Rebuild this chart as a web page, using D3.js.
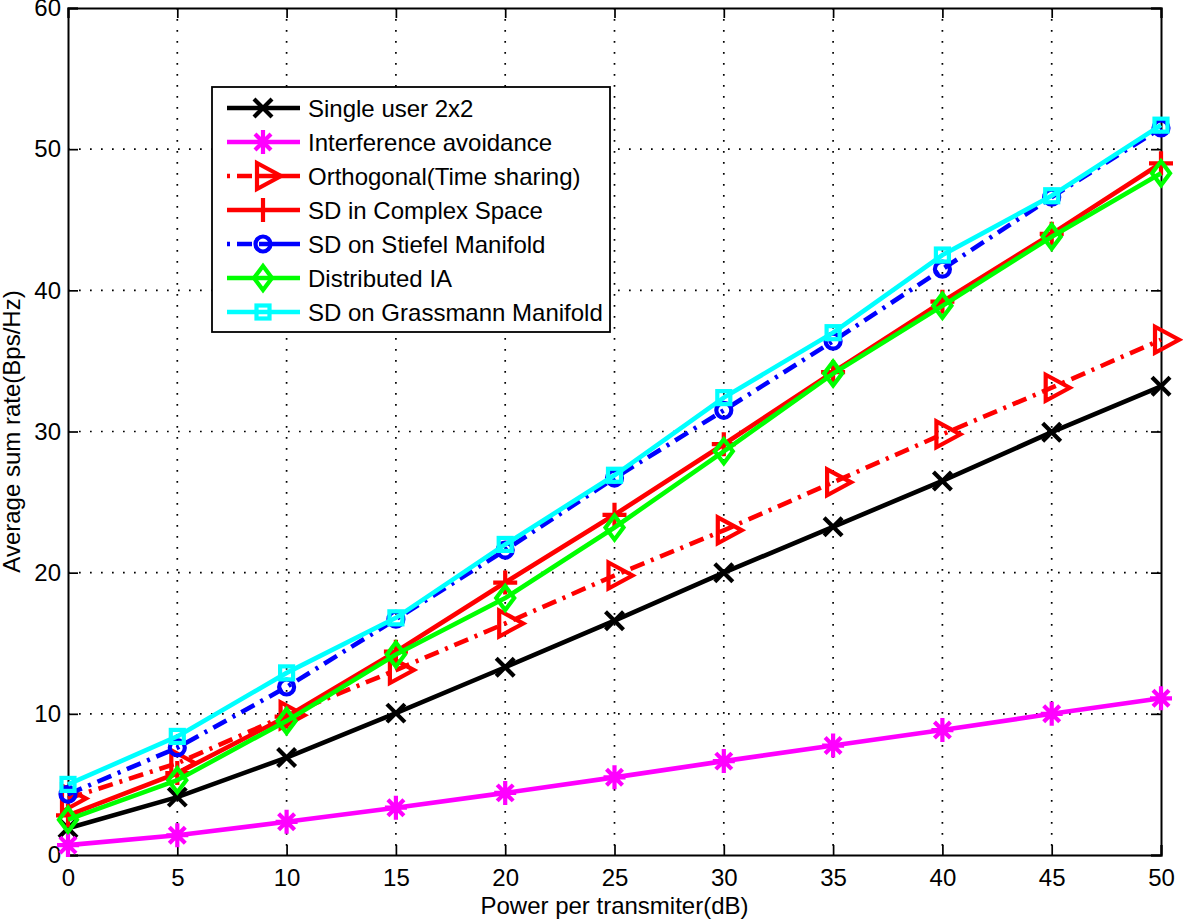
<!DOCTYPE html>
<html><head><meta charset="utf-8">
<script src="https://cdn.jsdelivr.net/npm/d3@7"></script>
<style>body{margin:0;background:#fff}svg{display:block}text{font-family:"Liberation Sans",Arial,sans-serif;fill:#000}</style>
</head><body><svg id="c" width="1183" height="919"></svg>
<script>
const xVals = [0,5,10,15,20,25,30,35,40,45,50];
const singleUser = [1.9,4.1,6.9,10.05,13.3,16.6,20.0,23.25,26.5,29.95,33.2];
const interfAvoid = [0.7,1.4,2.35,3.35,4.4,5.5,6.65,7.75,8.85,10.0,11.1];
const orthogonal = [4.0,6.5,9.9,13.1,16.4,19.8,23.0,26.4,29.8,33.1,36.5];
const sdComplex = [2.8,5.8,9.8,14.4,19.3,24.1,29.1,34.2,39.2,44.0,49.0];
const sdStiefel = [4.3,7.6,11.9,16.7,21.6,26.7,31.5,36.4,41.5,46.6,51.5];
const distIA = [2.5,5.3,9.5,14.2,18.2,23.2,28.6,34.1,38.9,43.8,48.3];
const sdGrass = [5.0,8.4,12.9,16.8,22.0,26.9,32.4,37.0,42.5,46.7,51.7];
const xTicks = [0,5,10,15,20,25,30,35,40,45,50];
const yTicks = [0,10,20,30,40,50,60];
const seriesNames = ["Single user 2x2","Interference avoidance","Orthogonal(Time sharing)","SD in Complex Space","SD on Stiefel Manifold","Distributed IA","SD on Grassmann Manifold"];
const xLabel = "Power per transmiter(dB)";
const yLabel = "Average sum rate(Bps/Hz)";

const series = [
  {name:seriesNames[0], v:singleUser, color:"#000000", dash:null, marker:"x"},
  {name:seriesNames[1], v:interfAvoid, color:"#ff00ff", dash:null, marker:"star"},
  {name:seriesNames[2], v:orthogonal, color:"#ff0000", dash:"15,7,3,7", marker:"tri"},
  {name:seriesNames[3], v:sdComplex, color:"#ff0000", dash:null, marker:"plus"},
  {name:seriesNames[4], v:sdStiefel, color:"#0000ff", dash:"15,7,3,7", marker:"circle"},
  {name:seriesNames[5], v:distIA, color:"#00ff00", dash:null, marker:"diamond"},
  {name:seriesNames[6], v:sdGrass, color:"#00ffff", dash:null, marker:"square"}
];

const L=68, T=8, W=1093, H=847;
const FS = "24px";
const svg = d3.select("#c");
const x = d3.scaleLinear().domain([0,50]).range([L,L+W]);
const y = d3.scaleLinear().domain([0,60]).range([T+H,T]);

// grid
const g = svg.append("g");
g.selectAll(".gx").data(xTicks.slice(1,-1)).join("line")
 .attr("x1",d=>x(d)).attr("x2",d=>x(d)).attr("y1",T).attr("y2",T+H)
 .attr("stroke","#000").attr("stroke-width",1.7).attr("stroke-dasharray","1.7,9.3");
g.selectAll(".gy").data(yTicks.slice(1,-1)).join("line")
 .attr("y1",d=>y(d)).attr("y2",d=>y(d)).attr("x1",L).attr("x2",L+W)
 .attr("stroke","#000").attr("stroke-width",1.7).attr("stroke-dasharray","1.7,9.3");

// axes
const ax = svg.append("g");
const tl = 10;
ax.append("g").attr("transform",`translate(0,${T+H})`).call(d3.axisBottom(x).tickValues(xTicks).tickSize(-tl).tickPadding(14).tickFormat(d3.format("d")));
ax.append("g").attr("transform",`translate(0,${T})`).call(d3.axisTop(x).tickValues(xTicks).tickSize(-tl).tickFormat(""));
ax.append("g").attr("transform",`translate(${L},0)`).call(d3.axisLeft(y).tickValues(yTicks).tickSize(-tl).tickPadding(7).tickFormat(d3.format("d")));
ax.append("g").attr("transform",`translate(${L+W},0)`).call(d3.axisRight(y).tickValues(yTicks).tickSize(-tl).tickFormat(""));
ax.selectAll(".domain").attr("stroke","#000").attr("stroke-width",2);
ax.selectAll(".tick line").attr("stroke","#000").attr("stroke-width",1.7);
ax.selectAll(".tick text").style("font-size",FS).style("font-family","'Liberation Sans',Arial,sans-serif").attr("fill","#000");

// markers
function drawMarker(sel, type, color){
  const sw = 4.2;
  if(type==="x"){
    sel.append("path").attr("d","M-9,-9L9,9M-9,9L9,-9").attr("stroke",color).attr("stroke-width",sw).attr("fill","none");
  } else if(type==="star"){
    sel.append("path").attr("d","M0,-12L0,12M-11,0L11,0M-8,-8L8,8M-8,8L8,-8").attr("stroke",color).attr("stroke-width",sw).attr("fill","none");
  } else if(type==="tri"){
    sel.append("path").attr("d","M-6,-13L18,0L-6,13Z").attr("stroke",color).attr("stroke-width",sw).attr("fill","none").attr("stroke-linejoin","miter");
  } else if(type==="plus"){
    sel.append("path").attr("d","M0,-12L0,12M-12,0L12,0").attr("stroke",color).attr("stroke-width",sw).attr("fill","none");
  } else if(type==="circle"){
    sel.append("circle").attr("r",7.5).attr("stroke",color).attr("stroke-width",sw).attr("fill","none");
  } else if(type==="diamond"){
    sel.append("path").attr("d","M0,-12L9,0L0,12L-9,0Z").attr("stroke",color).attr("stroke-width",sw).attr("fill","none");
  } else if(type==="square"){
    sel.append("rect").attr("x",-6.5).attr("y",-6.5).attr("width",13).attr("height",13).attr("stroke",color).attr("stroke-width",sw).attr("fill","none");
  }
}

const line = d3.line().x((d,i)=>x(xVals[i])).y(d=>y(d));
const plot = svg.append("g");
series.forEach(s=>{
  const gs = plot.append("g");
  gs.append("path").attr("d",line(s.v)).attr("fill","none").attr("stroke",s.color).attr("stroke-width",4.6)
    .attr("stroke-dasharray",s.dash).attr("stroke-linejoin","miter");
  s.v.forEach((v,i)=>{
    drawMarker(gs.append("g").attr("transform",`translate(${x(xVals[i])},${y(v)})`), s.marker, s.color);
  });
});

// legend
const lg = svg.append("g");
lg.append("rect").attr("x",212).attr("y",87).attr("width",398).attr("height",245).attr("fill","#fff").attr("stroke","#000").attr("stroke-width",1.8);
series.forEach((s,i)=>{
  const cy = 108 + i*34;
  lg.append("line").attr("x1",227).attr("x2",300).attr("y1",cy).attr("y2",cy).attr("stroke",s.color).attr("stroke-width",4.6)
    .attr("stroke-dasharray", s.dash ? "3,7,15,7,100" : null);
  drawMarker(lg.append("g").attr("transform",`translate(263,${cy})`), s.marker, s.color);
  lg.append("text").attr("x",308).attr("y",cy).attr("dy","0.36em").style("font-size",FS).text(s.name);
});

// axis labels
svg.append("text").attr("x",x(25)).attr("y",914).attr("text-anchor","middle").style("font-size",FS).text(xLabel);
svg.append("text").attr("transform",`translate(20,${y(30)}) rotate(-90)`).attr("text-anchor","middle").style("font-size",FS).text(yLabel);
</script></body></html>
